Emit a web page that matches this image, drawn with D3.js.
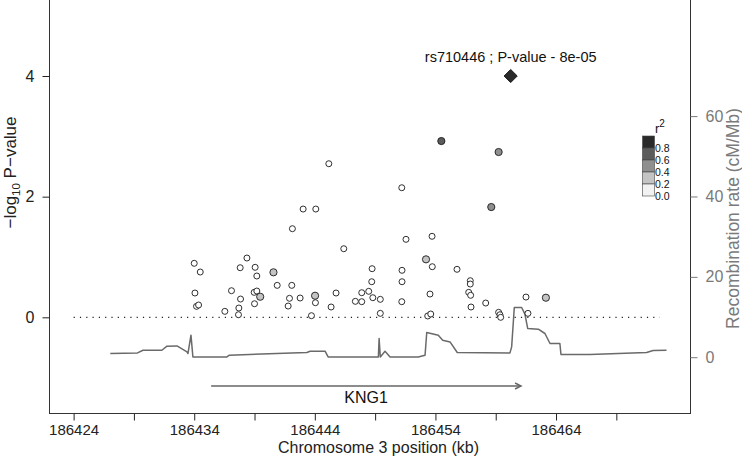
<!DOCTYPE html>
<html>
<head>
<meta charset="utf-8">
<script src="https://cdn.jsdelivr.net/npm/d3@7"></script>
<style>
  html, body { margin: 0; padding: 0; background: #fff; }
  svg { display: block; font-family: "Liberation Sans", Arial, Helvetica, sans-serif; }
</style>
</head>
<body>
<svg id="chart" width="742" height="458"></svg>
<script>
// ---------- data ----------
const snpPos = [
  186445.16, 186443.03, 186444.08, 186442.14, 186446.40, 186438.37, 186434.00, 186434.50,
  186437.81, 186439.05, 186440.57, 186439.19, 186440.88, 186442.09, 186434.06, 186437.09,
  186438.97, 186439.19, 186439.47, 186437.84, 186441.90, 186442.78, 186444.02, 186444.05,
  186445.76, 186447.89, 186434.19, 186434.36, 186439.00, 186441.79, 186445.35, 186447.36,
  186436.54, 186437.70, 186437.67, 186443.72, 186454.49, 186459.24, 186451.21, 186458.63,
  186451.56, 186453.72, 186453.22, 186453.74, 186448.75, 186451.23, 186455.79, 186448.72,
  186451.23, 186456.89, 186456.89, 186448.47, 186453.55, 186456.76, 186456.92, 186447.89,
  186448.81, 186449.43, 186451.21, 186458.17, 186461.51, 186463.16, 186456.95, 186449.43,
  186453.36, 186453.61, 186459.24, 186459.35, 186459.41, 186461.67
];
const snpLogP = [
  2.546, 1.795, 1.795, 1.469, 1.137, 0.983, 0.895, 0.751,
  0.822, 0.829, 0.746, 0.685, 0.530, 0.530, 0.403, 0.441,
  0.414, 0.436, 0.341, 0.303, 0.315, 0.320, 0.358, 0.242,
  0.403, 0.408, 0.182, 0.204, 0.225, 0.187, 0.171, 0.265,
  0.099, 0.154, 0.043, 0.027, 2.922, 2.740, 2.148, 1.828,
  1.293, 1.343, 0.961, 0.839, 0.806, 0.779, 0.796, 0.590,
  0.590, 0.607, 0.552, 0.431, 0.386, 0.414, 0.365, 0.259,
  0.325, 0.298, 0.259, 0.237, 0.336, 0.325, 0.171, 0.066,
  0.022, 0.055, 0.083, 0.043, 0.000, 0.066
];
const snpR2 = [
  0.05, 0.05, 0.05, 0.05, 0.05, 0.05, 0.05, 0.05,
  0.05, 0.05, 0.30, 0.05, 0.05, 0.05, 0.05, 0.05,
  0.05, 0.05, 0.30, 0.05, 0.05, 0.05, 0.30, 0.05,
  0.05, 0.05, 0.05, 0.05, 0.05, 0.05, 0.05, 0.05,
  0.05, 0.05, 0.05, 0.05, 0.70, 0.50, 0.05, 0.50,
  0.05, 0.05, 0.30, 0.05, 0.05, 0.05, 0.05, 0.05,
  0.05, 0.05, 0.05, 0.05, 0.05, 0.05, 0.05, 0.05,
  0.05, 0.05, 0.05, 0.05, 0.05, 0.30, 0.05, 0.05,
  0.05, 0.05, 0.05, 0.05, 0.05, 0.05
];

const leadSNP = "rs710446";
const leadPValue = "8e-05";
const leadPos = 186460.24;
const leadLogP = 4.0;

const recPos = [
  186427.04, 186429.30, 186429.75, 186431.32, 186431.74, 186432.57, 186433.40, 186433.48,
  186433.73, 186433.89, 186436.71, 186436.92, 186443.34, 186443.61, 186444.85, 186445.10,
  186449.27, 186449.33, 186449.43, 186449.82, 186450.24, 186452.58, 186453.14, 186453.28,
  186454.24, 186454.60, 186455.21, 186455.81, 186460.18, 186460.32, 186460.54, 186461.15,
  186461.42, 186461.65, 186462.53, 186463.08, 186463.50, 186464.32, 186464.41, 186466.81,
  186471.51, 186472.05, 186473.16
];
const recRate = [
  0.92, 1.07, 1.74, 1.74, 2.74, 2.81, 1.32, 0.92,
  5.48, 0.07, 0.07, 0.50, 1.17, 1.49, 1.49, 0.07,
  0.07, 4.66, 0.07, 1.49, 0.07, 0.07, 0.50, 6.15,
  5.48, 4.23, 3.81, 1.17, 1.07, 2.57, 12.38, 12.38,
  10.71, 7.15, 6.97, 5.90, 3.41, 3.41, 0.67, 0.67,
  1.17, 1.67, 1.74
];

const geneName = "KNG1";
const geneStart = 186435.4;
const geneEnd = 186461.1;

const xTicks = [186424, 186429, 186434, 186439, 186444, 186449, 186454, 186459, 186464, 186469];
const xTickLabels = ["186424", "", "186434", "", "186444", "", "186454", "", "186464", ""];
const yTicks = [0, 2, 4];
const recTicks = [0, 20, 40, 60];
const legendBreaks = [0.0, 0.2, 0.4, 0.6, 0.8, 1.0];
const legendLabels = ["0.0", "0.2", "0.4", "0.6", "0.8"];
const legendColors = ["#f2f2f2", "#c4c4c4", "#8f8f8f", "#5c5c5c", "#2a2a2a"];
const thresholdLine = 0;
const thresholdRange = [186424, 186472.6];

// ---------- layout ----------
const svg = d3.select("#chart");
const L = 49.5, R = 690.5, T = -1, B = 413.5;

const x = d3.scaleLinear().domain([186422.0, 186475.15]).range([L, R]);
const y = d3.scaleLinear().domain([-1.591, 5.26]).range([413.3, 0]);
const yr = d3.scaleLinear().domain([-13.96, 88.9]).range([413.3, 0]);
const color = d3.scaleThreshold().domain(legendBreaks.slice(1, -1)).range(legendColors);

const AX = "#222";
const GR = "#7a7a7a";

// recombination line
const recData = recPos.map((p, i) => ({ p, r: recRate[i] }));
svg.append("path")
  .datum(recData)
  .attr("fill", "none")
  .attr("stroke", "#6a6a6a")
  .attr("stroke-width", 1.5)
  .attr("stroke-linejoin", "round")
  .attr("d", d3.line().x(d => x(d.p)).y(d => yr(d.r)));

// dotted significance line
svg.append("line")
  .attr("x1", x(thresholdRange[0])).attr("x2", x(thresholdRange[1]))
  .attr("y1", y(thresholdLine)).attr("y2", y(thresholdLine))
  .attr("stroke", "#222").attr("stroke-width", 1.2)
  .attr("stroke-dasharray", "1.2,5.1");

// SNP points
const snps = snpPos.map((p, i) => ({ p, v: snpLogP[i], r2: snpR2[i] }));
svg.append("g").selectAll("circle")
  .data(snps)
  .join("circle")
  .attr("cx", d => x(d.p))
  .attr("cy", d => y(d.v))
  .attr("r", d => d.r2 >= 0.2 ? 3.6 : 3)
  .attr("fill", d => color(d.r2) === legendColors[0] ? "#ffffff" : color(d.r2))
  .attr("stroke", "#1a1a1a")
  .attr("stroke-width", 0.9);

// lead SNP diamond
svg.append("path")
  .attr("d", d3.symbol().type(d3.symbolDiamond2).size(110)())
  .attr("transform", `translate(${x(leadPos)},${y(leadLogP)})`)
  .attr("fill", "#2a2a2a")
  .attr("stroke", "#1a1a1a");

svg.append("text")
  .attr("x", x(leadPos)).attr("y", 62)
  .attr("text-anchor", "middle")
  .attr("font-size", 14.5)
  .attr("fill", "#111")
  .text(`${leadSNP} ; P-value - ${leadPValue}`);

// gene arrow
const gy = 386;
svg.append("line")
  .attr("x1", x(geneStart)).attr("x2", x(geneEnd))
  .attr("y1", gy).attr("y2", gy)
  .attr("stroke", "#666").attr("stroke-width", 1.6);
svg.append("path")
  .attr("d", `M${x(geneEnd) - 6},${gy - 3} L${x(geneEnd)},${gy} L${x(geneEnd) - 6},${gy + 3}`)
  .attr("fill", "none").attr("stroke", "#666").attr("stroke-width", 1.4);
svg.append("text")
  .attr("x", (x(geneStart) + x(geneEnd)) / 2).attr("y", 403)
  .attr("text-anchor", "middle").attr("font-size", 16).attr("fill", "#111")
  .text(geneName);

// box
svg.append("rect")
  .attr("x", L).attr("y", T).attr("width", R - L).attr("height", B - T)
  .attr("fill", "none").attr("stroke", "#333").attr("stroke-width", 1);

// axes
function styleAxis(g, col, fs) {
  g.select(".domain").remove();
  g.selectAll(".tick line").attr("stroke", col);
  g.selectAll(".tick text").attr("fill", col).attr("font-size", fs)
    .attr("font-family", "Liberation Sans, Arial, sans-serif");
}
const gx = svg.append("g").attr("transform", `translate(0,${B})`)
  .call(d3.axisBottom(x).tickValues(xTicks).tickFormat((d, i) => xTickLabels[i]).tickSize(7).tickPadding(4));
styleAxis(gx, AX, 15);

const gl = svg.append("g").attr("transform", `translate(${L},0)`)
  .call(d3.axisLeft(y).tickValues(yTicks).tickFormat(d3.format("d")).tickSize(7).tickPadding(8));
styleAxis(gl, AX, 16);

const gr = svg.append("g").attr("transform", `translate(${R},0)`)
  .call(d3.axisRight(yr).tickValues(recTicks).tickFormat(d3.format("d")).tickSize(7).tickPadding(8));
styleAxis(gr, GR, 16);

// axis titles
svg.append("text")
  .attr("x", 378.5).attr("y", 453)
  .attr("text-anchor", "middle").attr("font-size", 16).attr("fill", AX)
  .text("Chromosome 3 position (kb)");

const lt = svg.append("text")
  .attr("transform", "translate(16,172.5) rotate(-90)")
  .attr("text-anchor", "middle").attr("font-size", 17).attr("fill", AX);
lt.append("tspan").text("\u2212log");
lt.append("tspan").attr("font-size", 11.5).attr("dy", 4).text("10");
lt.append("tspan").attr("dy", -4).text(" P\u2212value");

svg.append("text")
  .attr("transform", "translate(739,218.5) rotate(-90)")
  .attr("text-anchor", "middle").attr("font-size", 17.5).attr("fill", GR)
  .text("Recombination rate (cM/Mb)");

// legend
const lgX = 642.5, lgW = 12, lgTop = 136, lgH = 12;
const lg = svg.append("g");
const rev = legendColors.slice().reverse();
lg.selectAll("rect").data(rev).join("rect")
  .attr("x", lgX).attr("y", (d, i) => lgTop + i * lgH)
  .attr("width", lgW).attr("height", lgH)
  .attr("fill", d => d).attr("stroke", "#444").attr("stroke-width", 0.6);
const labs = legendLabels.slice().reverse();
lg.selectAll("text.lab").data(labs).join("text").attr("class", "lab")
  .attr("x", lgX + lgW + 0.5).attr("y", (d, i) => lgTop + (i + 1) * lgH + 4)
  .attr("font-size", 10.5).attr("fill", "#111")
  .text(d => d);
const r2t = lg.append("text").attr("x", lgX + lgW + 0.5).attr("y", 133).attr("font-size", 13).attr("fill", "#111");
r2t.append("tspan").text("r");
r2t.append("tspan").attr("dy", -6).attr("font-size", 10).text("2");
</script>
</body>
</html>
